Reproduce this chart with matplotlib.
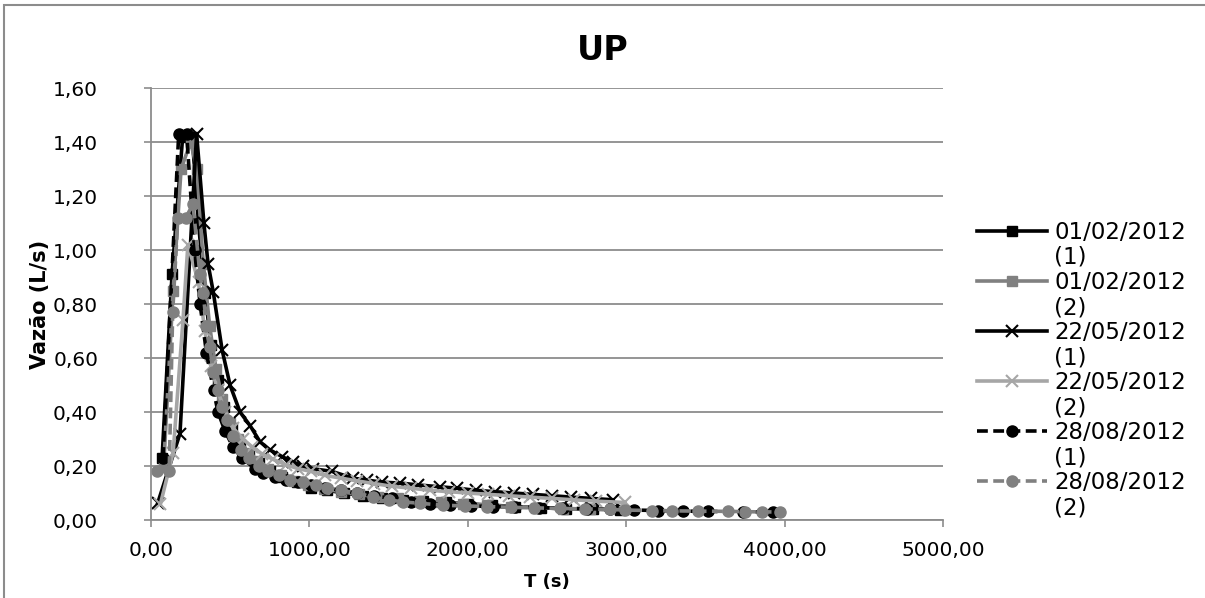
import matplotlib
matplotlib.use('Agg')
import matplotlib.pyplot as plt
from matplotlib.lines import Line2D
from matplotlib.patches import Rectangle

plt.rcParams['font.family'] = ['DejaVu Sans']

# series labels
dates = ['01/02/2012', '01/02/2012', '22/05/2012', '22/05/2012', '28/08/2012', '28/08/2012']
runs = ['(1)', '(2)', '(1)', '(2)', '(1)', '(2)']

# 01/02/2012 (1)
t_a = [70, 133, 200, 260, 300, 340, 380, 420, 460, 510, 560, 620, 680, 750, 830, 920, 1010,
       1110, 1220, 1340, 1460, 1590, 1720, 1860, 2000, 2150, 2300, 2460, 2620, 2790, 2960]
q_a = [0.23, 0.91, 1.42, 1.42, 1.10, 0.84, 0.65, 0.52, 0.42, 0.34, 0.28, 0.24, 0.21, 0.18, 0.16,
       0.14, 0.12, 0.11, 0.10, 0.09, 0.08, 0.075, 0.07, 0.065, 0.06, 0.055, 0.05, 0.045, 0.042,
       0.04, 0.038]

# 01/02/2012 (2)
t_b = [80, 140, 190, 250, 290, 330, 370, 410, 450, 500, 550, 610, 670, 740, 820, 900, 990, 1090,
       1200, 1310, 1430, 1560, 1690, 1830, 1970, 2120, 2270, 2430, 2600, 2770]
q_b = [0.20, 0.85, 1.30, 1.40, 1.30, 0.95, 0.72, 0.56, 0.45, 0.36, 0.30, 0.25, 0.22, 0.19, 0.165,
       0.145, 0.13, 0.115, 0.105, 0.095, 0.085, 0.08, 0.072, 0.066, 0.06, 0.055, 0.05, 0.046,
       0.042, 0.04]

# 22/05/2012 (1)
t_c = [42, 183, 288, 334, 360, 393, 449, 499, 562, 625, 688, 750, 827, 897, 960, 1023, 1143, 1275,
       1364, 1458, 1572, 1686, 1824, 1932, 2050, 2170, 2290, 2410, 2530, 2650, 2780, 2917]
q_c = [0.062, 0.32, 1.43, 1.10, 0.95, 0.845, 0.63, 0.50, 0.40, 0.35, 0.29, 0.26, 0.235, 0.215,
       0.20, 0.19, 0.18, 0.155, 0.148, 0.14, 0.137, 0.13, 0.123, 0.118, 0.11, 0.105, 0.10, 0.095,
       0.09, 0.085, 0.08, 0.075]

# 22/05/2012 (2)
t_d = [60, 140, 202, 233, 300, 340, 380, 420, 470, 520, 580, 640, 700, 770, 850, 930, 1010, 1100,
       1200, 1300, 1410, 1520, 1640, 1760, 1880, 2000, 2130, 2260, 2390, 2530, 2670, 2810, 2990]
q_d = [0.06, 0.25, 0.74, 1.02, 0.88, 0.70, 0.57, 0.48, 0.40, 0.34, 0.30, 0.27, 0.245, 0.225, 0.205,
       0.19, 0.18, 0.165, 0.155, 0.145, 0.135, 0.125, 0.118, 0.11, 0.105, 0.10, 0.095, 0.09, 0.085,
       0.08, 0.075, 0.07, 0.065]

# 28/08/2012 (1)
t_e = [76, 175, 225, 275, 310, 350, 395, 423, 467, 518, 574, 657, 710, 780, 850, 930, 1010, 1100,
       1200, 1300, 1410, 1520, 1640, 1760, 1890, 2020, 2160, 2300, 2450, 2600, 2750, 2900, 3050,
       3200, 3359, 3516, 3737, 3927]
q_e = [0.23, 1.43, 1.43, 1.00, 0.80, 0.62, 0.48, 0.40, 0.33, 0.27, 0.23, 0.19, 0.175, 0.16, 0.15,
       0.14, 0.13, 0.12, 0.11, 0.10, 0.09, 0.08, 0.068, 0.06, 0.055, 0.052, 0.05, 0.048, 0.046,
       0.044, 0.042, 0.04, 0.037, 0.035, 0.033, 0.032, 0.03, 0.03]

# 28/08/2012 (2)
t_f = [40, 115, 137, 170, 220, 265, 309, 330, 350, 372, 393, 420, 450, 480, 520, 570, 620, 680,
       740, 810, 880, 960, 1040, 1110, 1200, 1300, 1400, 1500, 1590, 1700, 1843, 1980, 2120, 2270,
       2420, 2580, 2740, 2900, 2992, 3163, 3289, 3453, 3643, 3750, 3857, 3970]
q_f = [0.18, 0.18, 0.77, 1.12, 1.12, 1.17, 0.91, 0.84, 0.72, 0.64, 0.55, 0.48, 0.42, 0.37, 0.31,
       0.26, 0.23, 0.20, 0.18, 0.165, 0.15, 0.14, 0.13, 0.12, 0.11, 0.10, 0.085, 0.075, 0.067,
       0.062, 0.055, 0.052, 0.05, 0.047, 0.045, 0.043, 0.041, 0.039, 0.037, 0.035, 0.034, 0.033,
       0.032, 0.031, 0.03, 0.03]

y_ticks = [0, 0.2, 0.4, 0.6, 0.8, 1.0, 1.2, 1.4, 1.6]
x_ticks = [0, 1000, 2000, 3000, 4000, 5000]

fig = plt.figure(figsize=(12.05, 5.98), dpi=100)
ax = fig.add_axes([0.1253, 0.1304, 0.6573, 0.7224])

styles = [
    dict(color='black', marker='s', ls='-', ms=7),
    dict(color='#808080', marker='s', ls='-', ms=7),
    dict(color='black', marker='x', ls='-', ms=8, mew=1.5),
    dict(color='#a6a6a6', marker='x', ls='-', ms=8, mew=1.5),
    dict(color='black', marker='o', ls=(0, (3, 1.5)), ms=8),
    dict(color='#808080', marker='o', ls=(0, (3, 1.5)), ms=8),
]
series = [(t_a, q_a), (t_b, q_b), (t_c, q_c), (t_d, q_d), (t_e, q_e), (t_f, q_f)]

handles = []
for (t, q), st in zip(series, styles):
    line, = ax.plot(t, q, lw=2.6, clip_on=False, **st)
    handles.append(line)

ax.set_xlim(0, 5000)
ax.set_ylim(0, 1.6)
ax.set_xticks(x_ticks)
ax.set_yticks(y_ticks)
ax.set_xticklabels([f'{v:.2f}'.replace('.', ',') for v in x_ticks])
ax.set_yticklabels([f'{v:.2f}'.replace('.', ',') for v in y_ticks])
ax.tick_params(labelsize=14.5, color='#8c8c8c', length=5, width=1.2)
ax.tick_params(axis='x', pad=10)
ax.tick_params(axis='y', pad=33)

ax.grid(axis='y', color='#8c8c8c', lw=1.3)
ax.set_axisbelow(True)
for s in ['top', 'right']:
    ax.spines[s].set_visible(False)
for s in ['left', 'bottom']:
    ax.spines[s].set_color('#8c8c8c')
    ax.spines[s].set_linewidth(1.3)

ax.set_xlabel('T (s)', fontsize=13, fontweight='bold')
ax.set_ylabel('Vazão (L/s)', fontsize=15, fontweight='bold')
ax.xaxis.set_label_coords(0.5, -0.122)
ax.yaxis.set_label_coords(-0.127, 0.5)
fig.text(0.5, 0.915, 'UP', ha='center', va='center', fontsize=24, fontweight='bold')

# legend: date line with handle, run number on the line below
blank = Line2D([], [], ls='none')
leg_handles = []
leg_labels = []
for h, d, r in zip(handles, dates, runs):
    leg_handles += [h, blank]
    leg_labels += [d, r]
fig.legend(leg_handles, leg_labels, loc='center left', bbox_to_anchor=(0.811, 0.381),
           frameon=False, fontsize=16.5, handlelength=3.05, handletextpad=0.3,
           labelspacing=0.09, borderpad=0, borderaxespad=0)

fig.patches.append(Rectangle((0.0035, -0.1), 1.2, 1.0916, transform=fig.transFigure,
                             fill=False, edgecolor='#8c8c8c', lw=1.5))

fig.savefig('out.png', dpi=100)
